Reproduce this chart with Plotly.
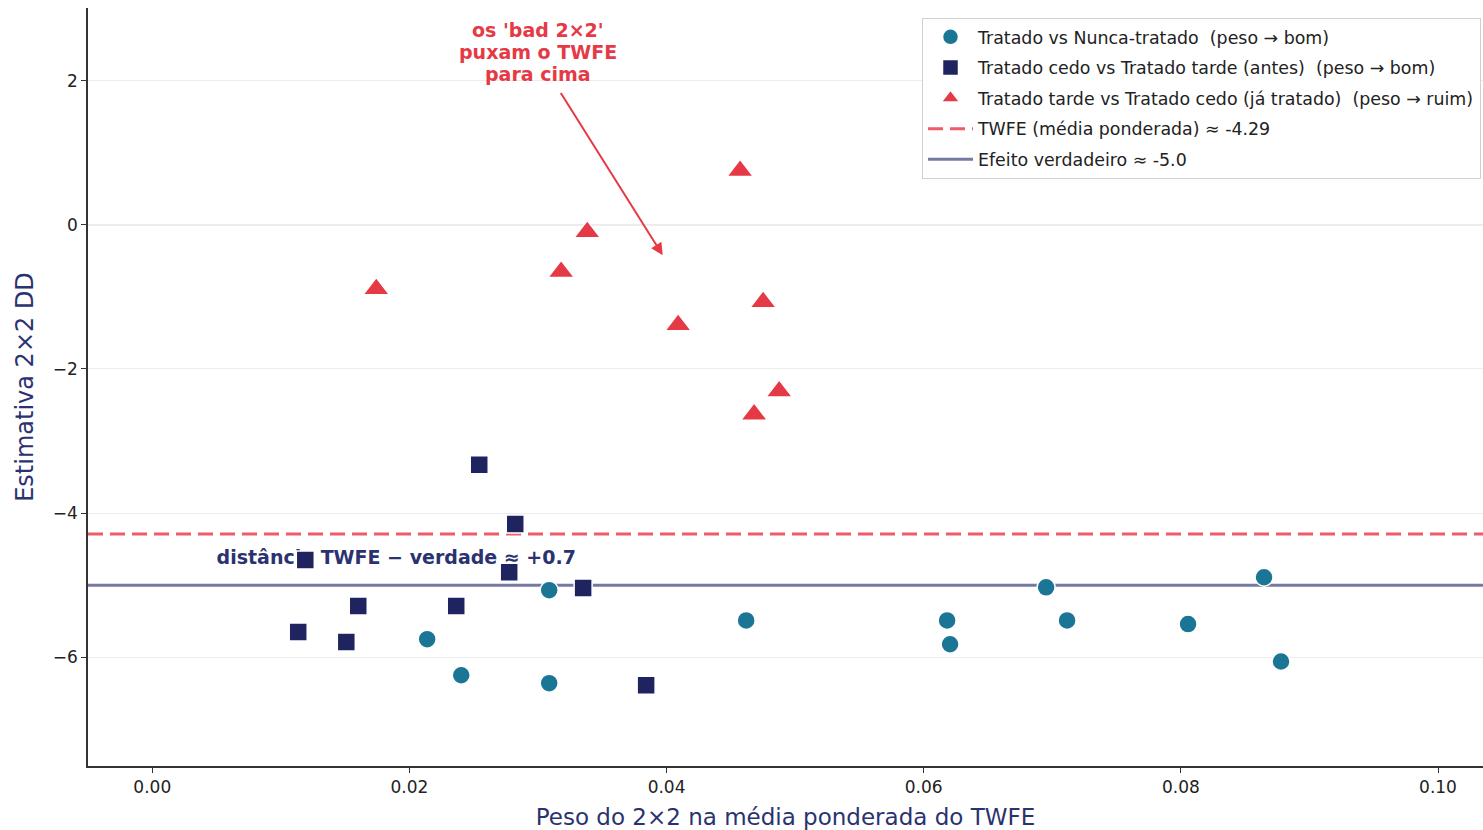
import plotly.graph_objects as go

# Peso (x) e estimativa 2x2 DD (y) de cada comparação
nunca_peso = [0.02138, 0.02403, 0.03087, 0.03087, 0.04619, 0.06182, 0.06205, 0.06952, 0.07115, 0.08056, 0.08647, 0.08779]
nunca_dd = [-5.75, -6.25, -5.07, -6.36, -5.49, -5.49, -5.82, -5.03, -5.49, -5.54, -4.89, -6.06]

cedo_peso = [0.01135, 0.0119, 0.01509, 0.01602, 0.02364, 0.02543, 0.02776, 0.02823, 0.03351, 0.03841]
cedo_dd = [-5.65, -4.65, -5.79, -5.29, -5.29, -3.33, -4.82, -4.15, -5.04, -6.39]

tarde_peso = [0.01742, 0.0318, 0.03383, 0.0409, 0.04572, 0.04681, 0.04751, 0.04876]
tarde_dd = [-0.89, -0.65, -0.10, -1.39, 0.75, -2.63, -1.07, -2.31]

twfe = -4.29
verdade = -5.0

x_ticks = [0.00, 0.02, 0.04, 0.06, 0.08, 0.10]
x_tick_text = ["0.00", "0.02", "0.04", "0.06", "0.08", "0.10"]
y_ticks = [-6, -4, -2, 0, 2]
y_tick_text = ["−6", "−4", "−2", "0", "2"]

nota_linhas = ["os 'bad 2×2'", "puxam o TWFE", "para cima"]

C_TEAL = "#1b7594"
C_NAVY = "#1f2461"
C_RED = "#e63946"
C_TWFE = "#ee5c6a"
C_TRUE = "#777aa0"
C_LABEL = "#2b3270"
FONT = "DejaVu Sans"

X_RANGE = [-0.005, 0.1035]
Y_RANGE = [-7.51, 3.01]

fig = go.Figure()

# Linhas de referência (TWFE e efeito verdadeiro)
fig.add_trace(go.Scatter(
    x=X_RANGE, y=[twfe, twfe], mode="lines",
    line=dict(color=C_TWFE, width=3, dash="15px,7px"),
    name=f"TWFE (média ponderada) ≈ {twfe}", legendrank=4, legendgroup="g4",
))
fig.add_trace(go.Scatter(
    x=X_RANGE, y=[verdade, verdade], mode="lines",
    line=dict(color=C_TRUE, width=3),
    name=f"Efeito verdadeiro ≈ {verdade}", legendrank=5, legendgroup="g5",
))

# Rótulo da distância, desenhado abaixo dos marcadores
fig.add_trace(go.Scatter(
    x=[0.005], y=[-4.64], mode="text",
    text=[f"<b>distância TWFE − verdade ≈ +{twfe - verdade:.1f}</b>"],
    textposition="middle right",
    textfont=dict(family=FONT, size=19, color=C_LABEL),
    showlegend=False, hoverinfo="skip",
))

fig.add_trace(go.Scatter(
    x=nunca_peso, y=nunca_dd, mode="markers",
    marker=dict(symbol="circle", size=18, color=C_TEAL, line=dict(color="white", width=1.5)),
    name="Tratado vs Nunca-tratado  (peso → bom)", legendrank=1, legendgroup="g1",
))
fig.add_trace(go.Scatter(
    x=cedo_peso, y=cedo_dd, mode="markers",
    marker=dict(symbol="square", size=18, color=C_NAVY, line=dict(color="white", width=1.5)),
    name="Tratado cedo vs Tratado tarde (antes)  (peso → bom)", legendrank=2, legendgroup="g2",
))
fig.add_trace(go.Scatter(
    x=tarde_peso, y=tarde_dd, mode="markers",
    marker=dict(symbol="triangle-up", size=23, color=C_RED, line=dict(color="white", width=1.5)),
    name="Tratado tarde vs Tratado cedo (já tratado)  (peso → ruim)", legendrank=3, legendgroup="g3",
))

# Linha horizontal em zero
fig.add_shape(type="line", xref="paper", x0=0, x1=1, yref="y", y0=0, y1=0,
              line=dict(color="#cfcfd6", width=1), layer="below")

# Anotação com seta (uma linha de texto por anotação)
for i, linha in enumerate(nota_linhas):
    fig.add_annotation(
        x=0.030, y=2.40, xref="x", yref="y", showarrow=False, yshift=22 * (1 - i),
        text=f"<b>{linha}</b>",
        font=dict(family=FONT, size=19, color=C_RED), align="center",
    )
fig.add_annotation(
    x=0.0397, y=-0.42, ax=0.0317, ay=1.85, xref="x", yref="y", axref="x", ayref="y",
    text="", showarrow=True, arrowhead=2, arrowsize=1.2, arrowwidth=2, arrowcolor=C_RED,
)

fig.update_layout(
    width=1483, height=830,
    margin=dict(l=88, r=0, t=8, b=64, autoexpand=False),
    paper_bgcolor="white", plot_bgcolor="white",
    font=dict(family=FONT, size=17, color="#222222"),
    legend=dict(
        x=(922 - 88) / (1483 - 88), y=(766 - 18) / (766 - 8),
        xanchor="left", yanchor="top",
        bgcolor="rgba(255,255,255,0.9)", bordercolor="#d0d0d0", borderwidth=1,
        font=dict(family=FONT, size=17.4, color="#222222"),
        itemwidth=45, tracegroupgap=5,
    ),
    showlegend=True,
)

fig.update_xaxes(
    range=X_RANGE, tickvals=x_ticks, ticktext=x_tick_text,
    showgrid=False, zeroline=False,
    showline=True, linecolor="#333333", linewidth=1.5,
    ticks="outside", ticklen=5, tickcolor="#333333",
    tickfont=dict(family=FONT, size=17, color="#222222"),
    title=dict(text="Peso do 2×2 na média ponderada do TWFE",
               font=dict(family=FONT, size=23, color=C_LABEL), standoff=13),
)
fig.update_yaxes(
    range=Y_RANGE, tickvals=y_ticks, ticktext=y_tick_text,
    showgrid=True, gridcolor="#ececec", gridwidth=1, zeroline=False,
    showline=True, linecolor="#333333", linewidth=1.5,
    ticks="outside", ticklen=5, tickcolor="#333333",
    tickfont=dict(family=FONT, size=17, color="#222222"),
    title=dict(text="Estimativa 2×2 DD",
               font=dict(family=FONT, size=24, color=C_LABEL), standoff=12),
)

fig.write_html("out.html")
